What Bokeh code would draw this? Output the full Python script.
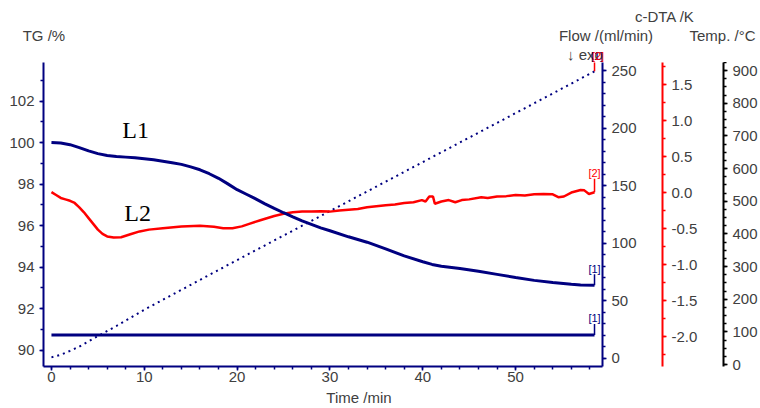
from bokeh.plotting import figure
from bokeh.models import Range1d, LinearAxis, SingleIntervalTicker, Label, NumeralTickFormatter
from bokeh.embed import file_html
from bokeh.resources import INLINE

# ---------------- data ----------------
tg_time = [0, 1, 2, 3, 4, 5, 6, 7, 8, 9, 10, 11, 12, 13, 14, 15, 16, 17, 18, 19, 20,
           21, 22, 23, 24, 25, 26, 27, 28, 29, 30, 32, 34, 36, 38, 40, 41, 42, 44, 46,
           48, 50, 52, 54, 56, 57, 58.5]
tg_mass = [100.0, 99.98, 99.9, 99.76, 99.6, 99.47, 99.38, 99.33, 99.3, 99.27, 99.22,
           99.17, 99.1, 99.03, 98.95, 98.83, 98.69, 98.5, 98.28, 98.01, 97.73, 97.51,
           97.29, 97.05, 96.83, 96.62, 96.42, 96.23, 96.06, 95.89, 95.75, 95.46, 95.2,
           94.88, 94.54, 94.26, 94.13, 94.04, 93.93, 93.8, 93.65, 93.5, 93.36, 93.26,
           93.17, 93.14, 93.13]

dta_time = [0, 0.5, 1, 1.5, 2, 2.5, 3, 3.5, 4, 4.5, 5, 5.5, 6, 6.7, 7.5, 8.5, 9.5, 10.5,
            12, 14, 16, 17.5, 18.5, 19.5, 20.5, 21.3, 22.5, 24, 25, 26, 27, 28, 29, 30,
            31, 32, 33, 34, 35, 36, 37, 38, 39, 39.9, 40.3, 40.7, 41.1, 41.3, 42, 42.8,
            43.5, 44.2, 45, 46.3, 47, 48, 49, 50, 51, 52, 53, 54, 54.6, 55.2, 56, 57,
            57.4, 57.9, 58.5]
dta_signal = [0.01, -0.03, -0.07, -0.09, -0.11, -0.14, -0.2, -0.27, -0.35, -0.43, -0.51,
              -0.57, -0.605, -0.62, -0.615, -0.575, -0.535, -0.51, -0.49, -0.465, -0.455,
              -0.47, -0.49, -0.49, -0.465, -0.43, -0.38, -0.32, -0.29, -0.27, -0.26,
              -0.26, -0.255, -0.26, -0.245, -0.235, -0.225, -0.2, -0.185, -0.17, -0.16,
              -0.14, -0.13, -0.1, -0.12, -0.05, -0.05, -0.15, -0.12, -0.1, -0.13, -0.1,
              -0.09, -0.06, -0.07, -0.05, -0.045, -0.03, -0.035, -0.02, -0.015, -0.02,
              -0.06, -0.05, 0.005, 0.04, 0.035, -0.015, 0.008]

flow_time = [0, 58.5]
flow_rate = [20, 20]

temp_time = [0, 1, 2, 3, 5, 7, 10, 20, 30, 40, 50, 58.5]
temp_value = [22, 30, 42, 55, 87, 118, 168, 320, 470, 620, 770, 898]

axis_titles = ["TG /%", "Flow /(ml/min)", "c-DTA /K", "Temp. /°C"]
x_title = "Time /min"
curve_names = ["L1", "L2"]

# ---------------- style ----------------
NAVY = "#000080"
RED = "#ff0000"
BLACK = "#000000"
TEXT = "#404040"
FONT = "Liberation Sans"
W = 760

# ---------------- main plot ----------------
p = figure(width=W, height=326, output_backend="svg", toolbar_location=None,
           x_range=Range1d(-0.857, 59.36), y_range=Range1d(89.21, 103.86),
           min_border_left=43, min_border_top=0, min_border_bottom=22, min_border_right=155)
p.outline_line_color = None
p.xgrid.visible = False
p.ygrid.visible = False
p.extra_y_ranges = {"flow": Range1d(-7.3, 257), "dta": Range1d(-2.41, 1.81),
                    "temp": Range1d(-6, 925)}


def style_axis(ax, color, interval, minor):
    ax.ticker = SingleIntervalTicker(interval=interval, num_minor_ticks=minor)
    ax.axis_line_color = color
    ax.axis_line_width = 2
    ax.major_tick_line_color = color
    ax.minor_tick_line_color = color
    ax.major_tick_line_width = 1.5
    ax.minor_tick_line_width = 1.5
    ax.major_tick_out = 4
    ax.major_tick_in = 0
    ax.minor_tick_out = 3
    ax.minor_tick_in = 0
    ax.major_label_text_font = FONT
    ax.major_label_text_font_size = "15px"
    ax.major_label_text_color = TEXT
    ax.major_label_standoff = 5


style_axis(p.xaxis[0], NAVY, 10, 5)
p.xaxis[0].major_label_standoff = 1
style_axis(p.yaxis[0], NAVY, 2, 2)

ax_flow = LinearAxis(y_range_name="flow")
style_axis(ax_flow, NAVY, 50, 5)
ax_flow.axis_label = "."
ax_flow.axis_label_text_alpha = 0
ax_flow.axis_label_text_font_size = "12px"
ax_flow.axis_label_standoff = 11
p.add_layout(ax_flow, "right")

ax_dta = LinearAxis(y_range_name="dta")
style_axis(ax_dta, RED, 0.5, 2)
ax_dta.formatter = NumeralTickFormatter(format="0.0")
ax_dta.axis_label = "."
ax_dta.axis_label_text_alpha = 0
ax_dta.axis_label_text_font_size = "12px"
ax_dta.axis_label_standoff = 11
p.add_layout(ax_dta, "right")

ax_temp = LinearAxis(y_range_name="temp")
style_axis(ax_temp, BLACK, 100, 4)
ax_temp.major_label_standoff = 5
p.add_layout(ax_temp, "right")

p.line(temp_time, temp_value, color=NAVY, line_width=2, line_dash="2 4", y_range_name="temp")
p.line(flow_time, flow_rate, color=NAVY, line_width=3, y_range_name="flow")
p.line(dta_time, dta_signal, color=RED, line_width=2.5, y_range_name="dta")
p.line(tg_time, tg_mass, color=NAVY, line_width=3)

# end-of-curve brackets
p.segment(x0=[tg_time[-1]], y0=[tg_mass[-1]], x1=[tg_time[-1]], y1=[tg_mass[-1] + 0.53],
          color=NAVY, line_width=1.5)
p.segment(x0=[flow_time[-1]], y0=[flow_rate[-1]], x1=[flow_time[-1]], y1=[flow_rate[-1] + 9.6],
          color=NAVY, line_width=1.5, y_range_name="flow")
p.segment(x0=[dta_time[-1]], y0=[dta_signal[-1]], x1=[dta_time[-1]], y1=[dta_signal[-1] + 0.19],
          color=RED, line_width=1.5, y_range_name="dta")
p.segment(x0=[temp_time[-1]], y0=[temp_value[-1]], x1=[temp_time[-1]], y1=[temp_value[-1] + 31],
          color=RED, line_width=1.5, y_range_name="temp")


def tag(x, y, text, color, dy, rng="default"):
    p.add_layout(Label(x=x, y=y, text=text, text_color=color, text_font=FONT,
                       text_font_size="11px", text_align="center", text_baseline="middle",
                       y_offset=dy, y_range_name=rng))


tag(tg_time[-1], tg_mass[-1], "[1]", NAVY, 16)
tag(flow_time[-1], flow_rate[-1], "[1]", NAVY, 17, "flow")
tag(dta_time[-1], dta_signal[-1], "[2]", RED, 19, "dta")

for name, xx, yy in [(curve_names[0], 9.06, 100.63), (curve_names[1], 9.29, 96.63)]:
    p.add_layout(Label(x=xx, y=yy, text=name, text_font="Liberation Serif",
                       text_font_size="24px", text_color=BLACK, text_align="center",
                       text_baseline="middle"))


# ---------------- strips for texts outside the plot frame ----------------
def strip(height, y_top):
    f = figure(width=W, height=height, output_backend="svg", toolbar_location=None,
               x_range=Range1d(0, W), y_range=Range1d(y_top + height, y_top),
               x_axis_location=None, y_axis_location=None,
               min_border_left=0, min_border_right=0, min_border_top=0, min_border_bottom=0)
    f.outline_line_color = None
    f.grid.visible = False
    return f


def put(f, x, y, text, color=TEXT, size="15px", align="left", base="middle"):
    f.add_layout(Label(x=x, y=y, text=text, text_color=color, text_font=FONT,
                       text_font_size=size, text_align=align, text_baseline=base))


top = strip(62, 0)
put(top, 43.4, 34.5, axis_titles[0], align="center")
put(top, 605.5, 34.5, axis_titles[1], align="center")
put(top, 664.3, 15.8, axis_titles[2], align="center")
put(top, 689, 34.5, axis_titles[3])
put(top, 566.5, 62, "↓ exo", base="bottom")
put(top, 596.5, 61.5, "[1]", color=NAVY, size="11px", align="center", base="bottom")
put(top, 597.5, 61, "[2]", color=RED, size="11px", align="center", base="bottom")

bottom = strip(20, 388)
put(bottom, 358.5, 396.6, x_title, align="center")

open("out.html", "w").write(file_html([top, p, bottom], INLINE))
